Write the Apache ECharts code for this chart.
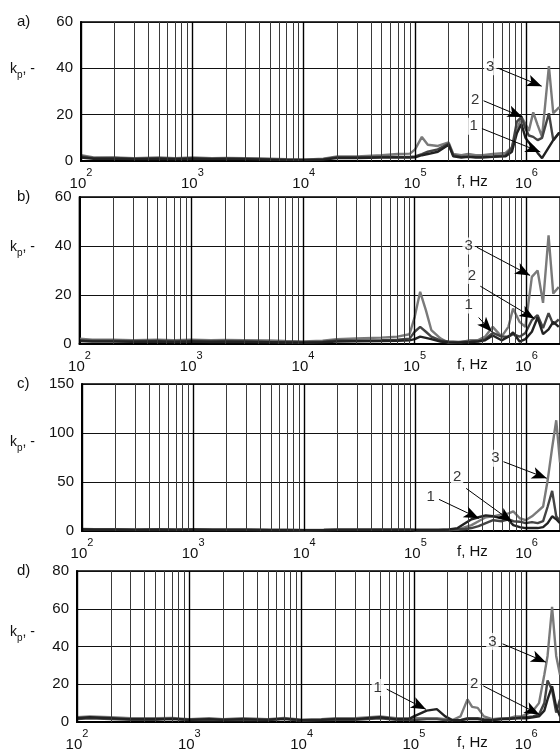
<!DOCTYPE html>
<html><head><meta charset="utf-8">
<script src="https://cdn.jsdelivr.net/npm/echarts@6/dist/echarts.min.js"></script>
<style>html,body{margin:0;padding:0;background:#fff}#c{width:560px;height:753px}</style>
</head><body><div id="c"></div>
<script>
// ---------- DATA ----------
const fLow = [100, 130, 200, 300, 500, 700, 1000, 1500, 2000, 3000, 5000, 7000, 10000, 15000, 20000, 30000, 50000, 70000, 90000];

// panel a
const freqA = fLow.concat([1e5, 1.15e5, 1.3e5, 1.6e5, 2e5, 2.2e5, 2.6e5, 3e5, 3.5e5, 4e5, 5e5, 6.5e5, 7.4e5, 8.2e5, 9e5, 9.8e5, 1.05e6, 1.15e6, 1.26e6, 1.38e6, 1.59e6, 1.74e6, 1.95e6, 2e6]);
const a1 = [1.5, 1.0, 1.0, 0.8, 1.0, 0.8, 1.0, 0.8, 0.9, 0.8, 0.6, 0.5, 0.4, 0.6, 1.3, 1.3, 1.5, 1.5, 1.5,
            1.6, 2.5, 3, 4, 7, 2, 1.5, 1.8, 1.5, 1.5, 1.8, 2, 4, 12, 16, 10, 8, 6, 3.5, 1.2, 6, 9, 12, 12];
const a2 = [2.0, 1.2, 1.3, 1.0, 1.2, 1.0, 1.2, 1.0, 1.1, 1.0, 0.8, 0.6, 0.5, 0.8, 1.6, 1.6, 1.8, 1.8, 1.8,
            2, 3, 4, 5, 7.5, 2.5, 1.8, 2, 1.8, 1.8, 2, 2.5, 5.6, 17, 19, 14, 11, 10.4, 9, 10, 20.6, 9, 12, 12];
const a3 = [2.5, 1.5, 1.5, 1.2, 1.5, 1.2, 1.5, 1.2, 1.3, 1.2, 1.0, 0.8, 0.6, 1.0, 2.0, 2.0, 2.5, 3.0, 3.2,
            5, 10.4, 7, 6.5, 8, 3, 2.5, 3, 2.5, 2.5, 3, 3.5, 6, 13, 19, 16, 13, 21, 15.5, 10.4, 41, 20.6, 23, 23];

// panel b
const freqB = fLow.concat([1e5, 1.12e5, 1.26e5, 1.41e5, 1.7e5, 2e5, 2.45e5, 3.16e5, 3.7e5, 4.27e5, 5e5, 6e5, 6.9e5, 7.6e5, 8.7e5, 9.8e5, 1.12e6, 1.26e6, 1.41e6, 1.58e6, 1.74e6, 1.95e6]);
const b1 = [1.2, 1.0, 1.0, 0.9, 1.0, 0.8, 1.0, 0.8, 0.9, 0.8, 0.7, 0.6, 0.5, 0.7, 1.0, 1.1, 1.2, 1.3, 1.5,
            2, 3, 2.5, 2, 1, 0.6, 0.5, 0.8, 1, 1.5, 3.5, 1.5, 3, 4.7, 1, 2, 5, 10.8, 4, 6, 9, 7];
const b2 = [1.6, 1.3, 1.3, 1.1, 1.3, 1.1, 1.3, 1.1, 1.2, 1.1, 0.9, 0.8, 0.7, 0.9, 1.4, 1.5, 1.6, 1.8, 2.2,
            5, 7, 5, 3, 1.5, 1, 0.8, 1, 1.2, 2, 4.5, 3, 3, 4, 3, 4.5, 9.8, 11.8, 6.5, 12.6, 8, 10];
const b3 = [2.2, 1.8, 1.8, 1.6, 1.8, 1.6, 1.8, 1.6, 1.7, 1.6, 1.4, 1.2, 1.0, 1.3, 2.0, 2.3, 2.6, 3.0, 4.0,
            11, 21.3, 13.8, 5.7, 2.3, 0.5, 0.5, 1.6, 1.6, 3, 7, 3, 7, 14.5, 9, 7, 27.4, 30, 16.8, 44.3, 20.6, 23.3];

// panel c
const freqC = fLow.concat([1e5, 1.3e5, 1.6e5, 2e5, 2.4e5, 2.8e5, 3.2e5, 3.7e5, 4.3e5, 5e5, 6e5, 6.9e5, 7.6e5, 8.7e5, 9.8e5, 1.12e6, 1.26e6, 1.41e6, 1.55e6, 1.7e6, 1.85e6, 2e6]);
const c1 = [1.5, 1.2, 1.2, 1.0, 1.2, 1.0, 1.2, 1.0, 1.0, 1.0, 0.8, 0.8, 0.7, 0.8, 1.0, 1.0, 1.0, 1.0, 1.0,
            1, 1, 1, 1.5, 3, 8, 12, 14, 16, 15, 13, 11, 6, 4, 3, 3, 3, 4, 8, 15, 12, 8];
const c2 = [1.8, 1.5, 1.5, 1.2, 1.5, 1.2, 1.5, 1.2, 1.2, 1.2, 1.0, 1.0, 0.8, 1.0, 1.2, 1.2, 1.2, 1.2, 1.2,
            1, 1, 1, 1, 1.5, 2, 3, 5, 8, 11, 10, 12, 10, 9.5, 8, 9, 8, 10, 25, 41, 15, 10];
const c3 = [2.0, 1.8, 1.8, 1.5, 1.8, 1.5, 1.8, 1.5, 1.5, 1.5, 1.2, 1.2, 1.0, 1.2, 1.5, 1.5, 1.5, 1.5, 1.5,
            1, 1, 1, 1, 1.5, 4, 6, 10, 14, 15, 17, 18, 20, 13, 11, 15, 20, 25, 52, 85, 113, 70];

// panel d
const freqD = fLow.concat([1e5, 1.3e5, 1.6e5, 1.9e5, 2.2e5, 2.6e5, 3e5, 3.3e5, 3.7e5, 4.2e5, 5e5, 6e5, 7e5, 8e5, 9e5, 1e6, 1.15e6, 1.3e6, 1.45e6, 1.55e6, 1.7e6, 1.85e6, 2e6]);
const d1 = [2.0, 2.5, 2.0, 1.5, 1.5, 1.8, 1.2, 1.5, 1.2, 1.5, 1.2, 1.8, 1.0, 1.2, 1.5, 1.5, 2.5, 1.5, 1.5,
            3, 6, 6.8, 3, 1, 1, 1.5, 1.5, 1.5, 1, 1, 1.5, 1.5, 2, 2, 2, 2.5, 3, 6, 12, 19, 8, 3];
const d2 = [1.5, 2.0, 1.5, 1.2, 1.2, 1.5, 1.0, 1.2, 1.0, 1.2, 1.0, 1.5, 0.8, 1.0, 1.2, 1.2, 2.0, 1.2, 1.2,
            1, 1.5, 1.5, 1, 1, 1, 2, 2, 2, 1.5, 1, 1.5, 2, 2, 2.5, 2.5, 3, 4, 10, 22, 17, 5, 12];
const d3 = [2.5, 3.0, 2.5, 2.0, 2.0, 2.2, 1.5, 2.0, 1.5, 2.0, 1.5, 2.2, 1.2, 1.5, 2.0, 2.0, 3.0, 2.0, 2.0,
            2, 2, 2, 1.5, 1, 3, 12, 8, 7.5, 3, 1.5, 2, 2, 3, 3, 4, 6, 10, 25, 35, 61, 35, 25];

// annotations: [text, labelF, labelV, startF, startV, tipF, tipV]
const annA = [['3', 4.73e5, 40.7, 5.6e5, 40, 1.37e6, 32.3], ['2', 3.47e5, 26.6, 4.12e5, 26, 9.2e5, 19], ['1', 3.36e5, 15, 3.98e5, 14, 1.33e6, 3.9]];
const annB = [['3', 3.04e5, 40, 3.6e5, 39.5, 1.08e6, 28], ['2', 3.26e5, 28, 3.87e5, 23.6, 1.18e6, 10.4], ['1', 3.04e5, 15.9, 3.74e5, 10.8, 4.9e5, 5]];
const annC = [['3', 5.24e5, 74.2, 6.2e5, 70.7, 1.52e6, 53.8], ['2', 2.37e5, 55.4, 2.86e5, 43.5, 7.4e5, 9.5], ['1', 1.37e5, 34.4, 1.63e5, 32.3, 3.72e5, 13]];
const annD = [['3', 5.0e5, 42.7, 6.16e5, 41.4, 1.5e6, 31.7], ['2', 3.45e5, 20.4, 4.15e5, 19.1, 1.31e6, 4], ['1', 4.77e4, 18.3, 5.73e4, 17.4, 1.28e5, 6.7]];

const yMax = [60, 60, 150, 80];
const yStep = [20, 20, 50, 20];
const letters = ['a)', 'b)', 'c)', 'd)'];

// ---------- LAYOUT ----------
const FONT = '"Liberation Sans", Arial, sans-serif';
const panels = [
  {freq: freqA, s: [a1, a2, a3], ann: annA, left: 81, top: 22, h: 139, dec: 111.75},
  {freq: freqB, s: [b1, b2, b3], ann: annB, left: 79.5, top: 197, h: 147, dec: 112.1},
  {freq: freqC, s: [c1, c2, c3], ann: annC, left: 82, top: 384, h: 147, dec: 111.5},
  {freq: freqD, s: [d1, d2, d3], ann: annD, left: 77, top: 571, h: 151, dec: 112.5}
];
const colors = ['#222', '#444', '#7a7a7a'];
const XMIN = 100, XMAX = 2e6;

const grid = [], xAxis = [], yAxis = [], series = [], graphic = [];
const gridVals = [];
for (let e = 2; e <= 6; e++) for (let m = 1; m <= 9; m++) { const v = m * Math.pow(10, e); if (v <= XMAX) gridVals.push([v, m === 1]); }

panels.forEach((p, i) => {
  const width = Math.log10(XMAX / XMIN) * p.dec;
  grid.push({left: p.left, top: p.top, width: width, height: p.h, show: true, borderColor: '#000', borderWidth: 1.4, backgroundColor: 'transparent'});
  xAxis.push({type: 'log', logBase: 10, min: XMIN, max: XMAX, gridIndex: i,
    axisLine: {show: true, onZero: false, lineStyle: {color: '#000', width: 2}},
    axisTick: {show: false}, splitLine: {show: false},
    axisLabel: {show: true, margin: 6, showMaxLabel: false,
      formatter: v => { const l = Math.log10(v); const e = Math.round(l); if (Math.abs(l - e) > 1e-6) return ''; return '{b|10}{s|' + e + '}'; },
      rich: {b: {fontSize: 15, fontFamily: FONT, color: '#111', verticalAlign: 'bottom', lineHeight: 24},
             s: {fontSize: 11, fontFamily: FONT, color: '#111', verticalAlign: 'top', lineHeight: 24}}}
  });
  yAxis.push({type: 'value', min: 0, max: yMax[i], interval: yStep[i], gridIndex: i,
    axisLine: {show: true, lineStyle: {color: '#000', width: 2}}, axisTick: {show: false},
    splitLine: {show: true, lineStyle: {color: '#111', width: 1.2}},
    axisLabel: {fontSize: 15, fontFamily: FONT, color: '#111', margin: 8}
  });
  // vertical grid lines
  series.push({type: 'line', xAxisIndex: i, yAxisIndex: i, data: [[XMIN, 0]], symbol: 'none', lineStyle: {opacity: 0}, z: 1, silent: true,
    markLine: {silent: true, symbol: ['none', 'none'], label: {show: false}, animation: false,
      data: gridVals.map(([v, major]) => ({xAxis: v, lineStyle: {color: major ? '#000' : '#3a3a3a', width: major ? 1.4 : 1, type: 'solid'}}))}
  });
  // data series (draw 3 first so dark ones on top)
  [2, 1, 0].forEach(k => {
    series.push({type: 'line', xAxisIndex: i, yAxisIndex: i, name: String(k + 1), z: 3,
      data: p.freq.map((f, j) => [f, p.s[k][j]]), symbol: 'none', smooth: false,
      lineStyle: {color: colors[k], width: 2.4}, animation: false});
  });
  // arrows
  series.push({type: 'line', xAxisIndex: i, yAxisIndex: i, data: [[XMIN, 0]], symbol: 'none', lineStyle: {opacity: 0}, z: 4, silent: true,
    markLine: {silent: true, animation: false, symbol: ['none', 'arrow'], symbolSize: [9, 15], label: {show: false},
      lineStyle: {color: '#000', width: 1, type: 'solid'},
      data: p.ann.map(a => [{coord: [a[3], a[4]]}, {coord: [a[5], a[6]]}])}
  });
  // annotation labels
  series.push({type: 'scatter', xAxisIndex: i, yAxisIndex: i, z: 5, silent: true, symbolSize: 0, animation: false,
    data: p.ann.map(a => ({name: a[0], value: [a[1], a[2]]})),
    label: {show: true, position: 'inside', formatter: d => d.name, fontSize: 15, fontFamily: FONT, color: '#000',
      backgroundColor: '#fff', padding: [1, 2]}
  });
  // texts
  const bottom = p.top + p.h;
  graphic.push({type: 'text', left: 17, top: p.top - 8, style: {text: letters[i], font: '15px ' + FONT, fill: '#111'}});
  const kpY = [62, 240, 435, 625][i];
  graphic.push({type: 'text', left: 10, top: kpY, style: {text: '{k|k}{p|p}{k|, -}', font: '14px ' + FONT, rich: {k: {fontSize: 14, fontFamily: FONT, fill: '#111', verticalAlign: 'top', lineHeight: 18}, p: {fontSize: 10, fontFamily: FONT, fill: '#111', verticalAlign: 'bottom', lineHeight: 18}}}});
  graphic.push({type: 'text', left: 457, top: bottom + 13, style: {text: 'f, Hz', font: '15px ' + FONT, fill: '#111'}});
});

const chart = echarts.init(document.getElementById('c'), null, {renderer: 'canvas'});
chart.setOption({animation: false, backgroundColor: '#fff', grid, xAxis, yAxis, series, graphic});
</script></body></html>
